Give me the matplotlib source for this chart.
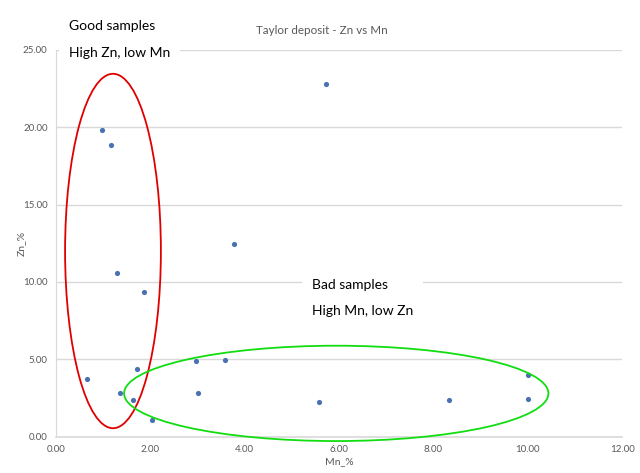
import matplotlib
matplotlib.use("Agg")
import matplotlib.pyplot as plt
from matplotlib.patches import Ellipse

# Mn_% vs Zn_% samples
mn = [0.98, 1.17, 5.73, 3.78, 1.30, 1.87, 0.67, 1.71, 1.36, 1.64, 2.04,
      2.97, 3.58, 3.01, 5.57, 8.33, 10.0, 10.0]
zn = [19.80, 18.85, 22.82, 12.46, 10.56, 9.36, 3.73, 4.40, 2.81, 2.35, 1.10,
      4.89, 4.98, 2.84, 2.26, 2.40, 3.96, 2.44]

x_ticks = [0, 2, 4, 6, 8, 10, 12]
y_ticks = [0, 5, 10, 15, 20, 25]

grey = "#595959"
grid = "#D9D9D9"

plt.rcParams['font.family'] = ['Lato', 'DejaVu Sans']

fig = plt.figure(figsize=(6.4, 4.73), dpi=100)
ax = fig.add_axes([0.0873, 0.0767, 0.885, 0.818])

ax.scatter(mn, zn, s=14, color="#4A72B2", zorder=3, linewidths=0)

ax.set_xlim(0, 12)
ax.set_ylim(0, 25)
ax.set_xticks(x_ticks)
ax.set_yticks(y_ticks)
ax.set_xticklabels([f"{v:.2f}" for v in x_ticks])
ax.set_yticklabels([f"{v:.2f}" for v in y_ticks])
ax.tick_params(length=0, labelsize=7, colors=grey, pad=6)
ax.yaxis.grid(True, color=grid, linewidth=1)
ax.set_axisbelow(True)
for s in ["top", "right"]:
    ax.spines[s].set_visible(False)
ax.spines["left"].set_color(grid)
ax.spines["bottom"].set_color(grid)
ax.spines["bottom"].set_linewidth(1.2)

ax.set_xlabel("Mn_%", fontsize=7.5, color=grey, labelpad=2)
ax.set_ylabel("Zn_%", fontsize=7.5, color=grey)
ax.yaxis.set_label_coords(-0.053, 0.5)
fig.text(322 / 640, 1 - 30 / 473, "Taylor deposit - Zn vs Mn", fontsize=8.4,
         color=grey, ha="center", va="center")

# hand-drawn ellipses around the two groups
ax.add_patch(Ellipse((1.21, 12.0), 2.03, 22.9, fill=False, edgecolor="#E00000",
                     linewidth=1.3, clip_on=False, zorder=4))
ax.add_patch(Ellipse((5.94, 2.80), 8.99, 6.16, fill=False, edgecolor="#11DD11",
                     linewidth=1.3, clip_on=False, zorder=4))

fig.text(69 / 640, 1 - 39.5 / 473, "Good samples\n\nHigh Zn, low Mn", fontsize=10,
         color="black", ha="left", va="center", linespacing=1.12,
         bbox=dict(facecolor="white", edgecolor="none", pad=7))
fig.text(312 / 640, 1 - 298 / 473, "Bad samples\n\nHigh Mn, low Zn", fontsize=10,
         color="black", ha="left", va="center", linespacing=1.08,
         bbox=dict(facecolor="white", edgecolor="none", pad=7))

fig.savefig("out.png", dpi=100)
